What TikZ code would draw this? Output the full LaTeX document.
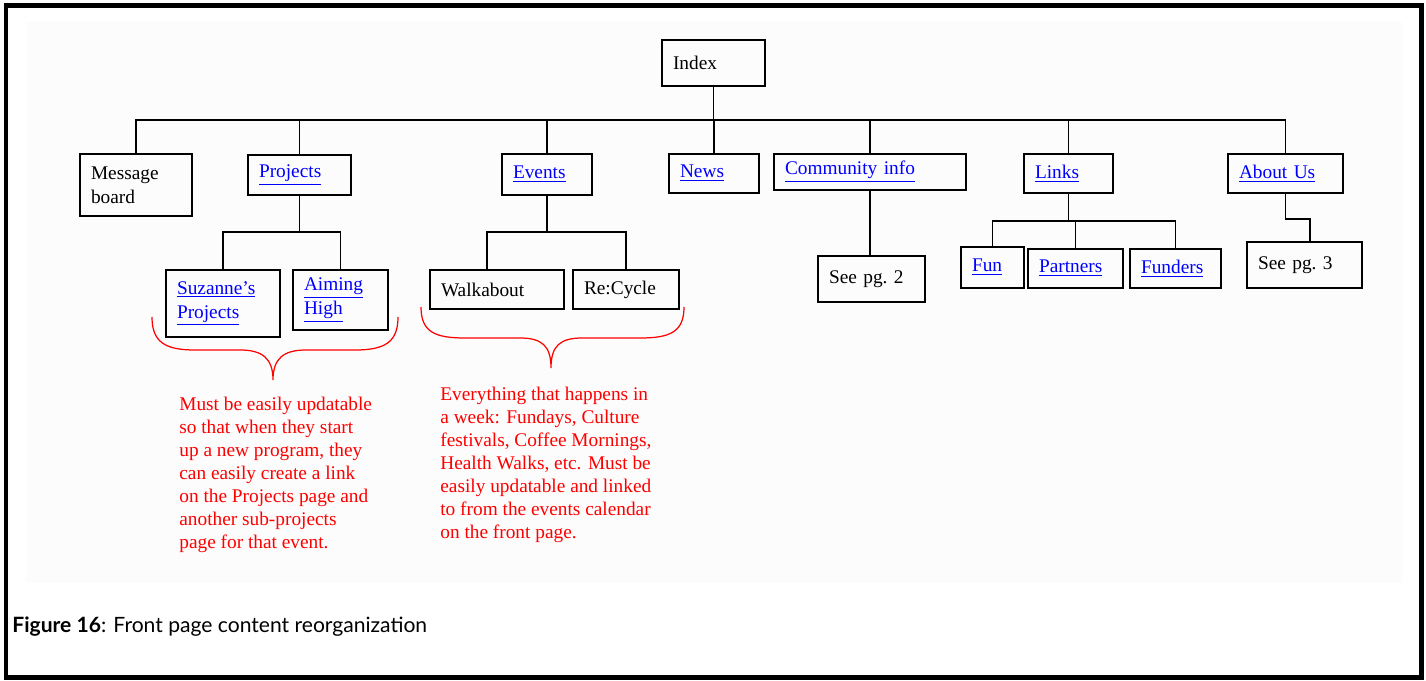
\documentclass[tikz,border=0pt]{standalone}
\usepackage{fontspec}
\setmainfont{Liberation Serif}
\newfontfamily\capfont{Lato}
\newcommand{\lnk}[1]{\textcolor{blue}{\underline{#1}}}
\begin{document}
\begin{tikzpicture}[x=0.02cm,y=-0.02cm,
        box/.style={draw,line width=1.1pt,inner xsep=0.22cm,inner ysep=0pt,align=left,font=\fontsize{11}{13.7}\selectfont},
        conn/.style={line width=1.1pt},
        brc/.style={red,line width=0.7pt},
        note/.style={red,align=left,anchor=north west,inner sep=0pt,font=\fontsize{11}{13.1}\selectfont}]
        \useasboundingbox (0,0) rectangle (1426,680);
        \fill[black!1] (26,22) rectangle (1402,583);
        \draw[line width=0.1cm] (6,5) rectangle (1421,677);
        % top level
        \node[box,text width=1.62cm,minimum height=0.92cm] (index) at (713.5,63) {Index};
        \node[box,text width=1.80cm,minimum height=1.24cm] (msg) at (136,185) {Message\\board};
        \node[box,text width=1.62cm,minimum height=0.80cm] (proj) at (299.5,175) {\lnk{Projects}};
        \node[box,text width=1.36cm,minimum height=0.82cm] (events) at (547,174.5) {\lnk{Events}};
        \node[box,text width=1.36cm,minimum height=0.78cm] (news) at (714,173.5) {\lnk{News}};
        \node[box,text width=3.40cm,minimum height=0.72cm] (comm) at (870,172) {\lnk{Community info}};
        \node[box,text width=1.34cm,minimum height=0.78cm] (links) at (1068.5,173.5) {\lnk{Links}};
        \node[box,text width=1.86cm,minimum height=0.78cm] (about) at (1285.5,173.5) {\lnk{About Us}};
        % second level
        \node[box,text width=1.84cm,minimum height=1.34cm] (suz) at (223,303.5) {\lnk{Suzanne's}\\\lnk{Projects}};
        \node[box,text width=1.46cm,minimum height=1.20cm] (aim) at (340.5,300) {\lnk{Aiming}\\\lnk{High}};
        \node[box,text width=2.24cm,minimum height=0.78cm] (walk) at (497,289.5) {Walkabout};
        \node[box,text width=1.68cm,minimum height=0.78cm] (recyc) at (626,289.5) {Re:Cycle};
        \node[box,text width=1.70cm,minimum height=0.92cm] (pg2) at (871.5,279) {See pg.\ 2};
        \node[box,text width=0.82cm,minimum height=0.82cm] (fun) at (992.5,267.5) {\lnk{Fun}};
        \node[box,text width=1.46cm,minimum height=0.78cm] (partners) at (1075.5,268.5) {\lnk{Partners}};
        \node[box,text width=1.38cm,minimum height=0.78cm] (funders) at (1175.5,268.5) {\lnk{Funders}};
        \node[box,text width=1.86cm,minimum height=0.92cm] (pg3) at (1304.5,265) {See pg.\ 3};
        % connectors
        \coordinate (bus) at (0,120);
        \coordinate (pbus) at (0,232);
        \coordinate (lbus) at (0,221);
        \foreach \c in {msg,proj,events,news,comm,links,about}
        \draw[conn] (index.south) -- (index.south |- bus) -| (\c.north);
        \draw[conn] (proj.south) -- (proj.south |- pbus) -| (suz.north);
        \draw[conn] (proj.south |- pbus) -| (aim.north);
        \draw[conn] (events.south) -- (events.south |- pbus) -| ([xshift=-0.2cm]walk.north);
        \draw[conn] (events.south |- pbus) -| (recyc.north);
        \draw[conn] (comm.south) -- (comm.south |- pg2.north);
        \foreach \c in {fun,partners,funders}
        \draw[conn] (links.south) -- (links.south |- lbus) -| (\c.north);
        \draw[conn] (about.south) -- ++(0,25) -| ([xshift=0.11cm]pg3.north);
        % braces
        \draw[brc] (152,317) .. controls (152,342) and (165,350) .. (195,350) -- (240,350) .. controls (262,350) and (273,358) .. (273,380) .. controls (273,358) and (284,350) .. (306,350) -- (355,350) .. controls (385,350) and (398,342) .. (398,317);
        \draw[brc] (421,307) .. controls (421,332) and (435,338) .. (465,338) -- (520,338) .. controls (542,338) and (551,346) .. (551,368) .. controls (551,346) and (560,338) .. (582,338) -- (640,338) .. controls (670,338) and (684,332) .. (684,307);
        % notes
        \node[note] (n1) at (179,397) {Must be easily updatable\\so that when they start\\up a new program, they\\can easily create a link\\on the Projects page and\\another sub-projects\\page for that event.};
        \node[note] (n2) at (440,387) {Everything that happens in\\a week: Fundays, Culture\\festivals, Coffee Mornings,\\Health Walks, etc. Must be\\easily updatable and linked\\to from the events calendar\\on the front page.};
        \node[anchor=west,inner sep=0pt,font=\capfont\fontsize{12}{14}\selectfont] (cap) at (12,627) {\textbf{Figure 16}: Front page content reorganization};
\end{tikzpicture}
\end{document}
